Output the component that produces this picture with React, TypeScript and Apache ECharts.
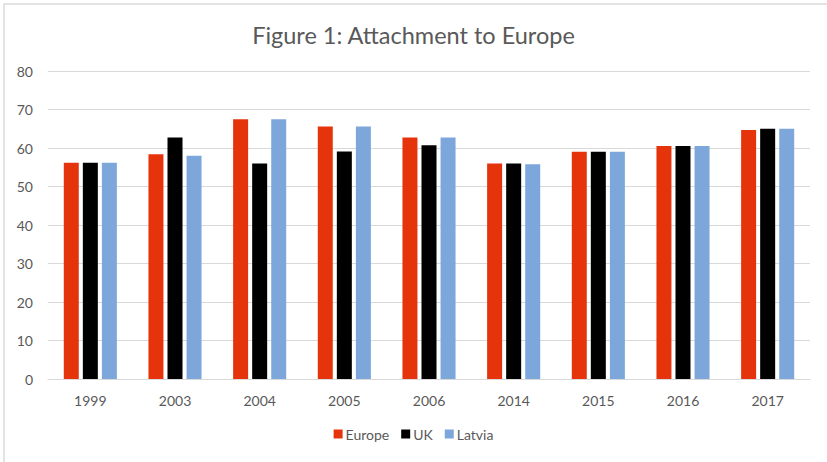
import React, { useEffect, useRef } from "react";
import * as echarts from "echarts";

const categories = ["1999", "2003", "2004", "2005", "2006", "2014", "2015", "2016", "2017"];
const europe = [56.2, 58.4, 67.5, 65.6, 62.7, 56.0, 59.0, 60.5, 64.7];
const uk = [56.2, 62.7, 56.0, 59.1, 60.7, 56.0, 59.0, 60.5, 65.0];
const latvia = [56.2, 58.0, 67.5, 65.6, 62.7, 55.8, 59.0, 60.5, 65.0];
const seriesNames = ["Europe", "UK", "Latvia"];
const colors = ["#E5340B", "#000000", "#7DA7DB"];

export default function App() {
  const ref = useRef<HTMLDivElement>(null);
  useEffect(() => {
    if (!ref.current) return;
    const chart = echarts.init(ref.current, undefined, { renderer: "svg" });
    const font = "Lato, 'Open Sans', sans-serif";
    const data = [europe, uk, latvia];
    chart.setOption({
      animation: false,
      backgroundColor: "#ffffff",
      textStyle: { fontFamily: font },
      title: {
        text: "Figure 1: Attachment to Europe",
        left: "center",
        top: 18,
        textStyle: { fontFamily: font, fontSize: 23.5, fontWeight: "normal", color: "#595959" },
      },
      graphic: [
        {
          type: "rect",
          shape: { x: 4, y: 4, width: 900, height: 500 },
          style: { fill: "none", stroke: "#dcdcdc", lineWidth: 1.5 },
          silent: true,
        },
      ],
      legend: {
        bottom: 16,
        left: "center",
        itemWidth: 9,
        itemHeight: 9,
        itemGap: 12,
        icon: "rect",
        textStyle: { fontFamily: font, fontSize: 14, color: "#595959", padding: [0, 0, 0, -2] },
        data: seriesNames,
      },
      grid: { left: 48, right: 17, top: 71, bottom: 83, containLabel: false },
      xAxis: {
        type: "category",
        data: categories,
        axisLine: { show: true, lineStyle: { color: "#d9d9d9" } },
        axisTick: { show: false },
        axisLabel: { fontFamily: font, fontSize: 14, color: "#595959", margin: 14 },
      },
      yAxis: {
        type: "value",
        min: 0,
        max: 80,
        interval: 10,
        axisLine: { show: false },
        axisTick: { show: false },
        splitLine: { lineStyle: { color: "#d9d9d9" } },
        axisLabel: { fontFamily: font, fontSize: 14, color: "#595959", margin: 15 },
      },
      series: seriesNames.map((name, i) => ({
        name,
        type: "bar",
        data: data[i],
        barWidth: 15,
        barGap: "27%",
        itemStyle: { color: colors[i] },
      })),
    });
    return () => chart.dispose();
  }, []);
  return (
    <div
      ref={ref}
      style={{ position: "absolute", left: 0, top: 0, width: 827, height: 462 }}
    />
  );
}
